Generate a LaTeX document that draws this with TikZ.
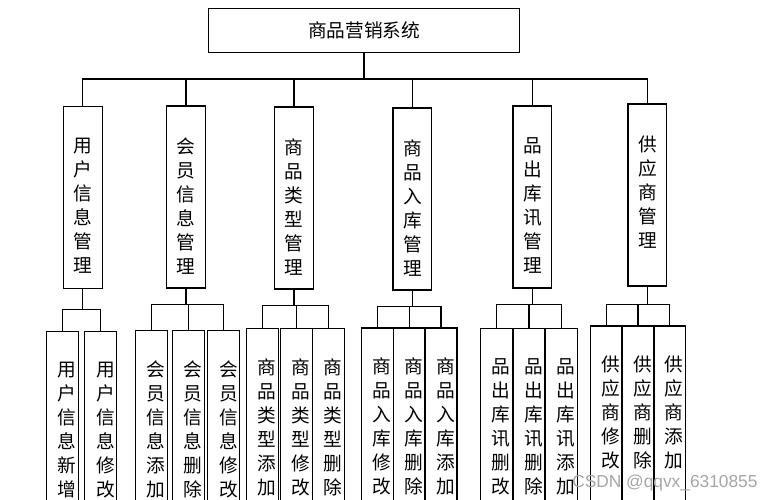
\documentclass[tikz,border=0pt]{standalone}
\usepackage{fontspec}
\newfontfamily\cjk{Noto Sans CJK SC}
\newfontfamily\wmfont{Liberation Sans}
\usetikzlibrary{positioning}

\begin{document}
\begin{tikzpicture}[x=0.75pt,y=-0.75pt]
        \tikzstyle{rootbox} = [draw, line width=0.9pt, rectangle, minimum width=233pt, minimum height=33pt, inner sep=0pt, font=\cjk\fontsize{14}{18}\selectfont]
        \tikzstyle{modbox} = [draw, line width=0.9pt, rectangle, minimum width=29pt, minimum height=136.5pt, inner sep=0pt, anchor=north]
        \tikzstyle{leafbox} = [draw, line width=0.9pt, rectangle, minimum width=24pt, minimum height=150pt, inner sep=0pt, anchor=north]
        \tikzstyle{vtext} = [align=center, inner sep=0pt, anchor=north, font=\cjk\fontsize{14}{18}\selectfont]
        \tikzstyle{link} = [line width=0.9pt]
        \useasboundingbox (0,0) rectangle (772,500);
        \clip (0,0) rectangle (772,500);
        % top
        \node (root) [rootbox] at (364,30.3) {商品营销系统};
        \path (root.south) ++(0,26) coordinate (bus);
        % modules
        \node (g1) [modbox] at (82.8,106) {};
        \node (g2) [modbox] at (186,105.3) {};
        \node (g3) [modbox] at (294,106.3) {};
        \node (g4) [modbox] at (412.4,107.3) {};
        \node (g5) [modbox] at (532.4,105.3) {};
        \node (g6) [modbox] at (647.4,103.3) {};
        \node (t1) [vtext, below=24pt of g1.north] {用\\户\\信\\息\\管\\理};
        \node (t2) [vtext, below=24pt of g2.north] {会\\员\\信\\息\\管\\理};
        \node (t3) [vtext, below=24pt of g3.north] {商\\品\\类\\型\\管\\理};
        \node (t4) [vtext, below=24pt of g4.north] {商\\品\\入\\库\\管\\理};
        \node (t5) [vtext, below=24pt of g5.north] {品\\出\\库\\讯\\管\\理};
        \node (t6) [vtext, below=24pt of g6.north] {供\\应\\商\\管\\理};
        \draw[link] (root.south) -- (bus);
        \draw[link] (g1.north) |- (bus) -| (g6.north);
        \foreach \g in {g2,g3,g4,g5}
            \draw[link] (\g.north) -- (\g.north |- bus);
        % functions
        \node (d11) [leafbox] at (62.5,330.7) {};
        \node (d12) [leafbox] at (100.8,330.7) {};
        \node (d21) [leafbox] at (151.3,330) {};
        \node (d22) [leafbox] at (188.3,330) {};
        \node (d23) [leafbox] at (223.8,330) {};
        \node (d31) [leafbox] at (262.3,328) {};
        \node (d32) [leafbox] at (296.5,328) {};
        \node (d33) [leafbox] at (328.3,328) {};
        \node (d41) [leafbox] at (377.3,327.3) {};
        \node (d42) [leafbox] at (409.4,327.3) {};
        \node (d43) [leafbox] at (441,327.3) {};
        \node (d51) [leafbox] at (496.4,327.5) {};
        \node (d52) [leafbox] at (528.9,327.5) {};
        \node (d53) [leafbox] at (561.5,327.5) {};
        \node (d61) [leafbox] at (606.5,325.3) {};
        \node (d62) [leafbox] at (637.9,325.3) {};
        \node (d63) [leafbox] at (669.3,325.3) {};
        \node (s11) [vtext, below=23pt of d11.north, xshift=3.5pt] {用\\户\\信\\息\\新\\增};
        \node (s12) [vtext, below=23pt of d12.north, xshift=3.5pt] {用\\户\\信\\息\\修\\改};
        \node (s21) [vtext, below=23pt of d21.north, xshift=3.5pt] {会\\员\\信\\息\\添\\加};
        \node (s22) [vtext, below=23pt of d22.north, xshift=3.5pt] {会\\员\\信\\息\\删\\除};
        \node (s23) [vtext, below=23pt of d23.north, xshift=3.5pt] {会\\员\\信\\息\\修\\改};
        \node (s31) [vtext, below=23pt of d31.north, xshift=3.5pt] {商\\品\\类\\型\\添\\加};
        \node (s32) [vtext, below=23pt of d32.north, xshift=3.5pt] {商\\品\\类\\型\\修\\改};
        \node (s33) [vtext, below=23pt of d33.north, xshift=3.5pt] {商\\品\\类\\型\\删\\除};
        \node (s41) [vtext, below=23pt of d41.north, xshift=3.5pt] {商\\品\\入\\库\\修\\改};
        \node (s42) [vtext, below=23pt of d42.north, xshift=3.5pt] {商\\品\\入\\库\\删\\除};
        \node (s43) [vtext, below=23pt of d43.north, xshift=3.5pt] {商\\品\\入\\库\\添\\加};
        \node (s51) [vtext, below=23pt of d51.north, xshift=3.5pt] {品\\出\\库\\讯\\删\\改};
        \node (s52) [vtext, below=23pt of d52.north, xshift=3.5pt] {品\\出\\库\\讯\\删\\除};
        \node (s53) [vtext, below=23pt of d53.north, xshift=3.5pt] {品\\出\\库\\讯\\添\\加};
        \node (s61) [vtext, below=23pt of d61.north, xshift=3.5pt] {供\\应\\商\\修\\改};
        \node (s62) [vtext, below=23pt of d62.north, xshift=3.5pt] {供\\应\\商\\删\\除};
        \node (s63) [vtext, below=23pt of d63.north, xshift=3.5pt] {供\\应\\商\\添\\加};
        \path (g1.south) ++(0,20) coordinate (j1);
        \path (g2.south) ++(0,16) coordinate (j2);
        \path (g3.south) ++(0,16) coordinate (j3);
        \path (g4.south) ++(0,16) coordinate (j4);
        \path (g5.south) ++(0,16) coordinate (j5);
        \path (g6.south) ++(0,18) coordinate (j6);
        \draw[link] (g1.south) -- (j1);
        \draw[link] (d11.north) |- (j1) -| (d12.north);
        \foreach \k in {2,...,6} {
            \draw[link] (g\k.south) -- (j\k);
            \draw[link] (d\k1.north) |- (j\k) -| (d\k3.north);
            \draw[link] (d\k2.north) -- (d\k2.north |- j\k);
        }
        \node (mark) [font=\wmfont\fontsize{13}{13}\selectfont, text=black!35, anchor=base west, inner sep=0pt] at (572,487) {CSDN @qqvx\_6310855};
\end{tikzpicture}
\end{document}
